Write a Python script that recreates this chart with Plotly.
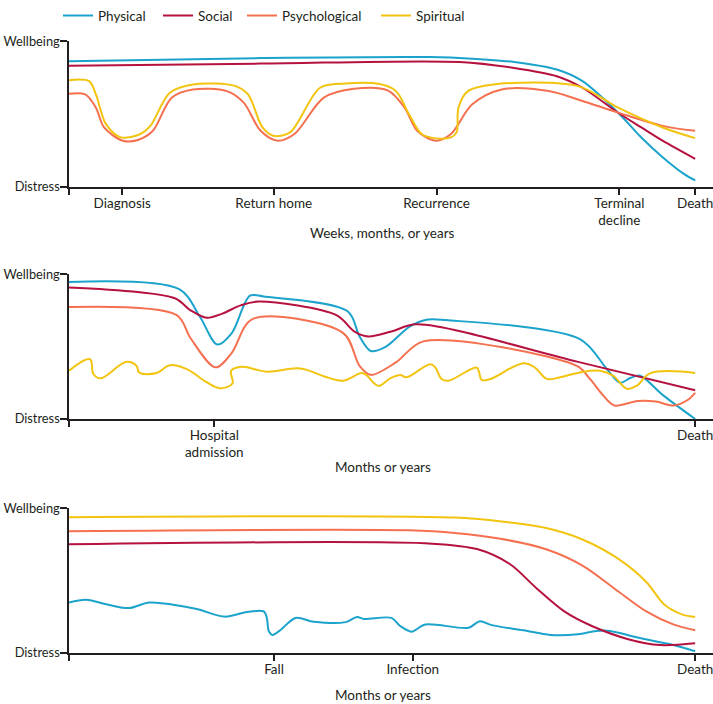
import plotly.graph_objects as go

# ---------------- data ----------------
SERIES = ["Physical", "Social", "Psychological", "Spiritual"]
COLORS = ["#1ba3cc", "#b5123f", "#f4704f", "#f2c40f"]

# Panel 1 : cancer trajectory
p1_ticks = [0, 8.5, 32.7, 58.7, 87.9, 100]
p1_ticktext = ["", "Diagnosis", "Return home", "Recurrence", "Terminal<br>decline", "Death"]
p1_phys_x = [0, 30.6, 57.6, 64.4, 71.1, 77.9, 82, 87.7, 91.4, 94.8, 98.2, 100]
p1_phys_y = [86.4, 88.6, 89.3, 88.2, 85.9, 80.7, 72.7, 51, 34, 20.5, 9, 4.5]
p1_soc_x = [0, 30.6, 62.4, 71.1, 77.9, 82, 87.7, 91.4, 94.8, 100]
p1_soc_y = [83.4, 84.8, 85.9, 81.8, 76.1, 68.2, 51, 40.9, 31.8, 19.3]
p1_psy_x = [0, 2.6, 4.3, 5.6, 8.6, 11, 13.4, 16.4, 19.8, 25.2, 27.9, 30.6, 33.3, 36, 40.7,
            45.5, 50.9, 53.6, 55.6, 58.6, 61, 64.4, 69.1, 76.6, 82, 87.7, 94.8, 100]
p1_psy_y = [64.1, 63.6, 54.5, 40.9, 31.8, 32.3, 38.6, 61.4, 67, 65.9, 58, 38.6, 31.8, 36.4, 61.4,
            67.5, 66.4, 54.5, 38.6, 31.8, 36.4, 56.8, 67, 65.9, 59.1, 51.1, 42, 38.6]
p1_spi_x = [0, 3.2, 4.3, 5.9, 8.3, 11.4, 13, 16.1, 19.8, 26.6, 28.6, 30.9, 32.6, 35.3, 40.1,
            44.1, 49.5, 52.2, 54.3, 56.3, 58.6, 61, 61.9, 62.2, 63.7, 67.8, 81.3, 87.7, 94.8, 100]
p1_spi_y = [73.4, 72.7, 63.6, 43.2, 34.1, 36.4, 42, 64.8, 70.5, 69.3, 63.6, 40.9, 35.2, 37.5, 68.2,
            71.1, 70.9, 65.9, 50, 36.4, 33.4, 34.1, 37.5, 54.5, 65.9, 70.5, 69.3, 54.5, 40.9, 33.6]

# Panel 2 : organ failure trajectory
p2_ticks = [0, 23.2, 100]
p2_ticktext = ["", "Hospital<br>admission", "Death"]
p2_phys_x = [0, 17.6, 20.9, 23.7, 26.0, 28.9, 31.1, 44.5, 46.4, 48.2, 50.7, 54.4, 57.3, 60.2,
             81.6, 85.9, 88.0, 89.7, 91.2, 94.9, 100]
p2_phys_y = [94.8, 89.8, 70.7, 51.5, 59.4, 85.3, 84.7, 74.5, 57.1, 47.0, 50.3, 63.9, 68.8, 68.4,
             55.3, 34.5, 25.0, 28.5, 29.9, 16.3, 0]
p2_soc_x = [0, 16.9, 19.4, 22.0, 24.5, 27.4, 30.3, 42.7, 45.6, 47.8, 51.5, 55.5, 81.3, 100]
p2_soc_y = [91.0, 83.5, 75.2, 70.0, 72.9, 78.6, 81.3, 71.8, 60.5, 57.1, 60.5, 65.5, 39.5, 19.9]
p2_psy_x = [0, 17.2, 19.4, 23.4, 26.0, 29.3, 43.8, 46.4, 48.2, 52.2, 56.6, 81.1, 83.2, 85.3,
            87.1, 90.8, 93.7, 96.6, 98.8, 100]
p2_psy_y = [77.4, 71.8, 56.0, 35.7, 45.8, 69.1, 59.4, 36.8, 30.5, 39.1, 53.7, 36.7, 27.7, 16.3,
            9.3, 12.4, 12.0, 9.3, 13.1, 18.1]
p2_spi_x = [0, 3.35, 3.9, 5.0, 9.2, 10.8, 11.2, 14.0, 16.1, 18.8, 22.0, 24.1, 26.1, 25.9, 27.6,
            31.6, 36.9, 41.2, 43.8, 46.8, 47.6, 49.4, 51.3, 52.9, 53.9, 57.7, 58.5, 59.5, 60.6,
            65.1, 65.5, 65.9, 67.3, 72.6, 74.4, 76.3, 78.4, 81.6, 84.8, 86.9, 89.1, 90.7, 92.8, 100]
p2_spi_y = [33.3, 41.3, 31.1, 28.1, 39.5, 36.7, 32.2, 31.8, 37.2, 34.5, 25.4, 21.3, 24.5, 33.3, 36.1,
            32.7, 34.9, 28.8, 26.5, 31.8, 29.9, 22.9, 28.1, 30.4, 28.8, 37.9, 35.6, 27.7, 26.5,
            35.6, 32.2, 27.0, 27.7, 38.6, 35.6, 27.7, 28.8, 32.2, 33.3, 29.9, 20.9, 23.1, 31.5, 31.8]

# Panel 3 : frailty trajectory
p3_ticks = [0, 32.75, 54.9, 100]
p3_ticktext = ["", "Fall", "Infection", "Death"]
p3_phys_x = [0, 2.7, 6.3, 9.6, 12.9, 20.2, 24.9, 28.2, 31.1, 31.6, 31.9, 32.5, 33.6, 36.2, 39.1,
             44.2, 46.0, 47.1, 51.5, 52.9, 54.7, 56.9, 63.8, 65.6, 67.5, 72.6, 76.9, 81.3, 84.2,
             86.4, 90.8, 95.9, 100]
p3_phys_y = [34.8, 36.7, 33.3, 31.0, 34.8, 30.5, 25.1, 28.1, 28.7, 24.2, 15.2, 12.4, 15.2, 24.2,
             21.5, 21.3, 24.9, 23.5, 24.2, 18.6, 14.7, 19.7, 17.4, 21.9, 19.2, 15.6, 12.4, 12.9,
             15.2, 15.2, 10.6, 6.1, 1.1]
p3_soc_x = [0, 58, 65.3, 70.4, 74.7, 79.1, 83.5, 89.3, 94.4, 100]
p3_soc_y = [75.1, 75.6, 71.7, 61.5, 44.6, 28.7, 18.6, 9.5, 5.4, 6.6]
p3_psy_x = [0, 54.4, 61.6, 68.9, 76.2, 82, 87.8, 92.2, 96.5, 100]
p3_psy_y = [84.2, 84.8, 83.0, 79.0, 71.7, 60.4, 42.3, 28.7, 19.7, 15.6]
p3_spi_x = [0, 61.6, 68.9, 76.2, 82, 87.8, 92.2, 95.1, 98, 100]
p3_spi_y = [93.9, 93.7, 91.0, 86.4, 78.5, 64.9, 49.1, 33.3, 26.5, 24.9]

X_TITLES = ["Weeks, months, or years", "Months or years", "Months or years"]

# ---------------- figure ----------------
W, H = 713, 704
FONT = "Lato, 'Open Sans', sans-serif"
INK = "#231f20"

panels = [
    (p1_ticks, p1_ticktext, [(p1_phys_x, p1_phys_y), (p1_soc_x, p1_soc_y), (p1_psy_x, p1_psy_y), (p1_spi_x, p1_spi_y)]),
    (p2_ticks, p2_ticktext, [(p2_phys_x, p2_phys_y), (p2_soc_x, p2_soc_y), (p2_psy_x, p2_psy_y), (p2_spi_x, p2_spi_y)]),
    (p3_ticks, p3_ticktext, [(p3_phys_x, p3_phys_y), (p3_soc_x, p3_soc_y), (p3_psy_x, p3_psy_y), (p3_spi_x, p3_spi_y)]),
]
# pixel positions: (axis top = Wellbeing, axis bottom = Distress, x-title centre)
panel_px = [(30, 178, 225), (267, 414, 463), (505, 652, 695)]
legend_names = ["legend", "legend2", "legend3", "legend4"]
legend_x_px = [58, 158, 242, 376]

fig = go.Figure()
layout = dict(
    width=W, height=H,
    margin=dict(l=0, r=0, t=0, b=0),
    paper_bgcolor="white", plot_bgcolor="white",
    font=dict(family=FONT, size=13.5, color=INK),
    annotations=[],
)

for pi, (ticks, ticktext, data) in enumerate(panels):
    sfx = "" if pi == 0 else str(pi + 1)
    for si, (xs, ys) in enumerate(data):
        smooth = 1.1 if (pi == 1 and si == 3) else 0.9
        fig.add_trace(go.Scatter(
            x=xs, y=ys, mode="lines", name=SERIES[si],
            line=dict(color=COLORS[si], width=2, shape="spline", smoothing=smooth),
            xaxis="x" + sfx, yaxis="y" + sfx,
            showlegend=(pi == 0),
            legend=legend_names[si],
            hoverinfo="skip",
        ))
    top, bot, tpx = panel_px[pi]
    layout["xaxis" + sfx] = dict(
        domain=[69 / W, 1], range=[0, 102.85], anchor="y" + sfx,
        showgrid=False, zeroline=False, showline=True, linecolor=INK, linewidth=1.5,
        ticks="outside", ticklen=6, tickwidth=1.5, tickcolor=INK,
        tickmode="array", tickvals=ticks, ticktext=ticktext,
        tickfont=dict(family=FONT, size=13.5, color=INK),
        ticklabelstandoff=-3, ticklabeloverflow="allow",
        automargin=False, fixedrange=True,
    )
    layout["yaxis" + sfx] = dict(
        domain=[1 - bot / H, 1 - top / H], range=[0, 100], anchor="x" + sfx,
        showgrid=False, zeroline=False, showline=True, linecolor=INK, linewidth=1.5,
        ticks="outside", ticklen=7, tickwidth=1.5, tickcolor=INK,
        tickmode="array", tickvals=[0, 100], ticktext=["Distress", "Wellbeing"],
        tickfont=dict(family=FONT, size=12.8, color=INK),
        ticklabelstandoff=-2, ticklabeloverflow="allow",
        automargin=False, fixedrange=True,
    )
    layout["annotations"].append(dict(
        text=X_TITLES[pi], xref="paper", yref="paper",
        x=383 / W, y=1 - tpx / H, xanchor="center", yanchor="middle",
        showarrow=False, font=dict(family=FONT, size=13.5, color=INK),
    ))

for li, ln in enumerate(legend_names):
    layout[ln] = dict(
        x=legend_x_px[li] / W, y=1 + 12 / H, xanchor="left", yanchor="top",
        orientation="h", bgcolor="rgba(0,0,0,0)", borderwidth=0,
        font=dict(family=FONT, size=13.5, color=INK),
        itemwidth=30,
    )

fig.update_layout(**layout)
fig.write_html(
    "out.html",
    config={"displayModeBar": False},
    post_script="document.body.style.margin='0';document.body.style.overflow='hidden';",
)
